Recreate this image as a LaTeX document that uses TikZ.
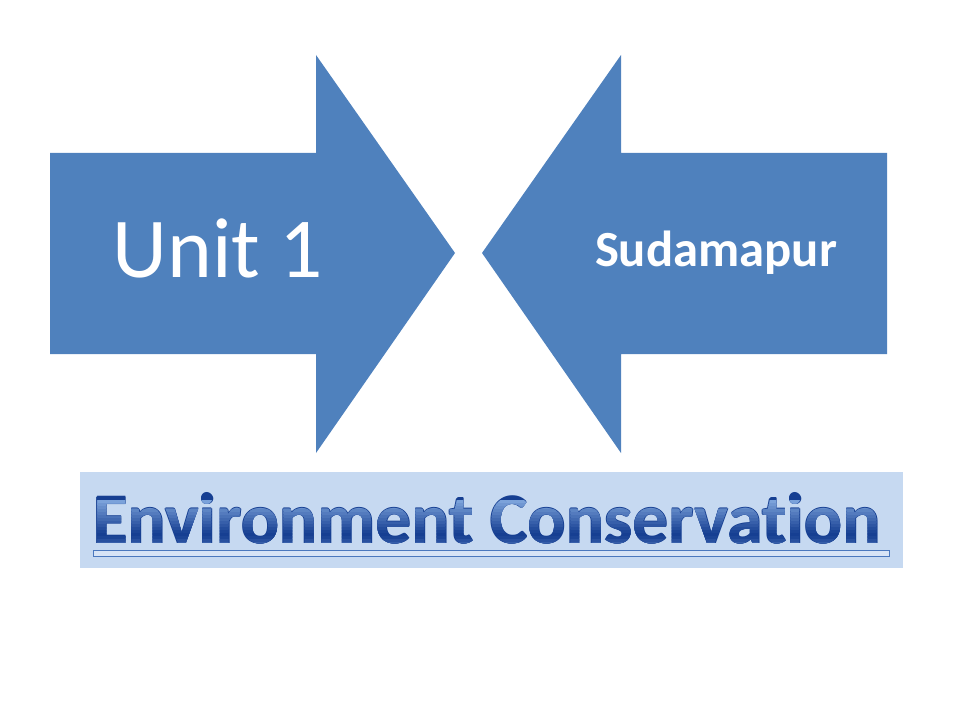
\documentclass[tikz,border=0pt]{standalone}
\usepackage{fontspec}
\setmainfont{Carlito}[Ligatures=NoCommon]

\definecolor{arrowblue}{HTML}{4F81BD}
\definecolor{bannerblue}{HTML}{C6D9F1}
\definecolor{titlelight}{HTML}{8DB3E6}
\definecolor{titledark}{HTML}{163F92}
\definecolor{lineblue}{HTML}{4A78BE}

\newcommand{\titlefont}{\bfseries\fontsize{53.5}{60}\selectfont}

\begin{document}
\begin{tikzpicture}[x=0.75pt, y=-0.75pt]
    
    \useasboundingbox (0,0) rectangle (960,720);
    
    % left arrow
    \coordinate (l1) at (50, 153);
    \coordinate (l2) at (316, 153);
    \coordinate (l3) at (316, 55);
    \coordinate (l4) at (455, 253);
    \coordinate (l5) at (316, 453);
    \coordinate (l6) at (316, 354);
    \coordinate (l7) at (50, 354);
    
    % right arrow
    \coordinate (r1) at (887, 153);
    \coordinate (r2) at (621, 153);
    \coordinate (r3) at (621, 55);
    \coordinate (r4) at (482, 253);
    \coordinate (r5) at (621, 453);
    \coordinate (r6) at (621, 354);
    \coordinate (r7) at (887, 354);
    
    \fill[arrowblue] (l1) -- (l2) -- (l3) -- (l4) -- (l5) -- (l6) -- (l7) -- cycle;
    \fill[arrowblue] (r1) -- (r2) -- (r3) -- (r4) -- (r5) -- (r6) -- (r7) -- cycle;
    
    \node (unit) at (218, 278) [anchor=base, text=white, font=\fontsize{64}{72}\selectfont] {Unit 1};
    \node (place) at (716, 267) [anchor=base, text=white, font=\bfseries\fontsize{38}{44}\selectfont] {Sudamapur};
    
    % banner
    \fill[bannerblue] (80, 472) rectangle (903, 568);
    \draw[lineblue, fill=titlelight!35] (93, 550) rectangle (889, 556);
    
    % title: thin dark rim, then one strip of colour at a time
    \foreach \dx/\dy in {-0.5/0, 0.5/0, 0/-0.5, 0/0.5} {
        \node (rim) at (487+\dx, 543+\dy) [anchor=base, text=titledark, font=\titlefont] {Environment Conservation};
    }
    \foreach \ya/\mix in {484/8, 500/15, 503/24, 506/32, 509/40, 512/48, 515/56, 518/64, 521/72, 524/80, 527/88, 530/95, 533/100, 536/95, 539/85, 542/72} {
        \begin{scope}
            \clip (80, \ya) rectangle (903, \ya+4);
            \node (title\ya) at (487, 543) [anchor=base, text=titledark!\mix!titlelight, font=\titlefont] {Environment Conservation};
        \end{scope}
    }
    
    \end{tikzpicture}
\end{document}
